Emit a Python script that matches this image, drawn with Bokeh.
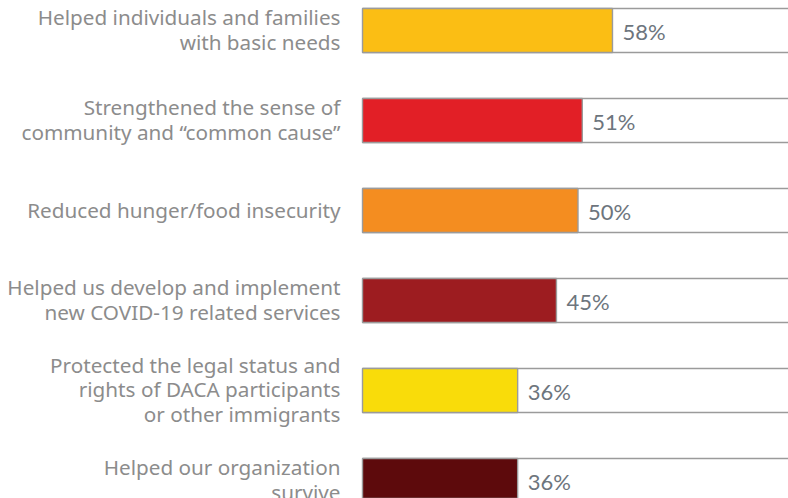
from bokeh.plotting import figure
from bokeh.models import Range1d, ColumnDataSource
from bokeh.core.properties import value
from bokeh.embed import file_html
from bokeh.resources import INLINE

categories = [
    "Helped individuals and families\nwith basic needs",
    "Strengthened the sense of\ncommunity and \u201ccommon cause\u201d",
    "Reduced hunger/food insecurity",
    "Helped us develop and implement\nnew COVID-19 related services",
    "Protected the legal status and\nrights of DACA participants\nor other immigrants",
    "Helped our organization\nsurvive",
]
values = [58, 51, 50, 45, 36, 36]
colors = ["#FBBE14", "#E21F26", "#F48D20", "#9D1C20", "#F9DC0A", "#5D0A0C"]
totals = [100] * len(values)

bh = 0.489
idx = list(range(len(categories)))
src = ColumnDataSource(dict(
    y=idx, cat=categories, val=values, total=totals, color=colors,
    zero=[0] * len(values), lab=[f"{v}%" for v in values],
    ytop=[i - bh / 2 for i in idx], ybot=[i + bh / 2 for i in idx],
))

W, H = 788, 498
p = figure(width=W, height=H, output_backend="svg", toolbar_location=None,
           x_range=Range1d(-362 / 4.31, (W - 362) / 4.31),
           y_range=Range1d((H - 30) / 90.0, -30 / 90.0),
           min_border=0, min_border_left=0, min_border_right=0,
           min_border_top=0, min_border_bottom=0)
p.axis.visible = False
p.grid.visible = False
p.outline_line_color = None
p.background_fill_color = "white"
p.border_fill_color = "white"

border = "#9b9b9b"
# outlined 100% track: top and bottom edges (right edge lies beyond the view)
p.segment(x0="zero", x1="total", y0="ytop", y1="ytop", source=src,
          line_color=border, line_width=1.4)
p.segment(x0="zero", x1="total", y0="ybot", y1="ybot", source=src,
          line_color=border, line_width=1.4)
p.hbar(y="y", left="zero", right="val", height=bh, source=src,
       fill_color="color", line_color=border, line_width=1.4)

p.text(x="zero", y="y", text="cat", source=src, x_offset=-22, y_offset=-1,
       text_align="right", text_baseline="middle",
       text_font=value("Noto Sans"), text_font_size="20.7px",
       text_color="#8c8c8c", text_line_height=0.86)

p.text(x="val", y="y", text="lab", source=src, x_offset=10, y_offset=1,
       text_align="left", text_baseline="middle",
       text_font=value("Lato"), text_font_size="22px",
       text_color="#6d757d")

open("out.html", "w").write(file_html(p, INLINE))
